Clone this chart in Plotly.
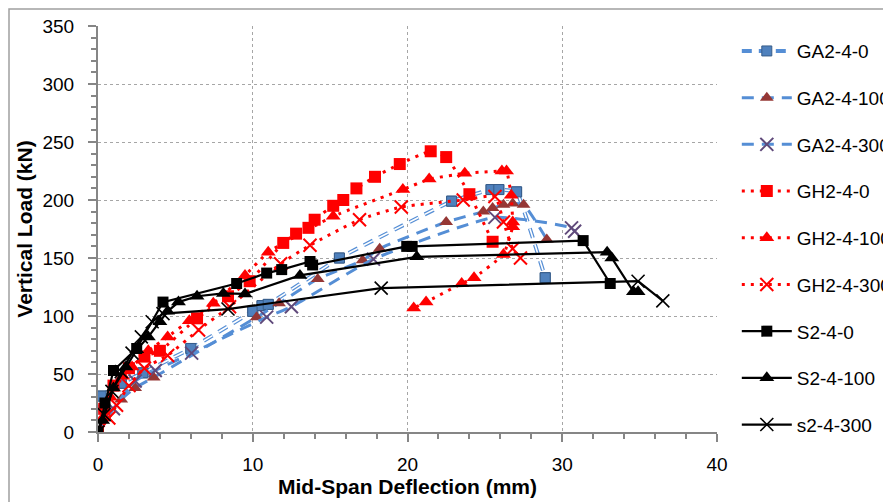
import plotly.graph_objects as go

# ---------------- data (mm, kN) ----------------
ga2_4_0_x = [0, 0.2, 1.5, 2.9, 6.0, 10.0, 10.6, 11.0, 15.6, 22.85, 25.4, 25.9, 27.05, 28.9]
ga2_4_0_y = [0, 31, 42, 51, 72, 104, 109, 110, 150, 199, 209, 209, 207, 133]

ga2_4_100_x = [0, 0.5, 1.5, 2.4, 3.6, 10.25, 11.7, 14.2, 17.1, 18.2, 22.5, 24.9, 25.5, 26.2, 26.8, 27.5, 29.0]
ga2_4_100_y = [0, 12, 28, 38, 47, 99, 111, 132, 148, 158, 181, 190, 193, 196, 197, 196, 166]

ga2_4_300_x = [0, 1.0, 2.4, 3.7, 6.05, 10.9, 12.5, 17.8, 25.65, 30.6, 30.8]
ga2_4_300_y = [0, 20, 44, 53, 68, 99, 108, 149, 185, 176, 173]

gh2_4_0_x = [0, 0.4, 1.0, 2.0, 3.0, 4.0, 6.4, 8.4, 9.8, 11.97, 12.8, 13.6, 14.0, 15.2, 15.85, 16.7, 17.9, 19.5, 21.5, 22.5, 24.0, 25.5]
gh2_4_0_y = [0, 20, 40, 55, 65, 70, 98, 117, 130, 163, 171, 176, 183, 195, 200, 210, 220, 231, 242, 237, 205, 164]

gh2_4_100_x = [0, 0.3, 0.8, 1.6, 2.2, 3.25, 4.5, 5.9, 7.45, 9.5, 11.0, 15.2, 19.7, 21.4, 23.7, 26.1, 26.4, 26.7, 26.8, 26.8, 26.2, 24.3, 23.5, 21.2, 20.4]
gh2_4_100_y = [0, 12, 30, 48, 56, 70, 82, 96, 111, 135, 155, 186, 209, 218, 223, 225, 225, 204, 181, 177, 153, 133, 128, 112, 107]

gh2_4_300_x = [0, 0.7, 1.2, 2.0, 3.0, 4.5, 6.5, 8.5, 11.8, 13.7, 16.9, 19.6, 23.6, 25.65, 26.2, 26.8, 27.3]
gh2_4_300_y = [0, 12, 23, 40, 55, 66, 88, 108, 145, 161, 183, 194, 200, 203, 181, 158, 150]

s2_4_0_x = [0, 0.45, 1.0, 2.5, 4.2, 8.96, 10.9, 11.87, 13.7, 13.87, 19.95, 20.3, 31.35, 33.1]
s2_4_0_y = [0, 25, 53, 72, 112, 128, 137, 140, 147, 144, 160, 160, 165, 128]

s2_4_100_x = [0, 0.3, 1.0, 1.8, 2.5, 3.25, 4.0, 4.5, 5.2, 6.4, 8.1, 9.5, 13.05, 20.6, 32.9, 33.2, 34.6, 34.9]
s2_4_100_y = [0, 10, 38, 56, 71, 82, 95, 104, 112, 117, 119.5, 119, 135, 151, 155, 150, 121, 121]

s2_4_300_x = [0, 0.4, 0.9, 1.5, 2.2, 2.8, 3.5, 4.2, 8.4, 18.3, 34.9, 36.5]
s2_4_300_y = [0, 15, 35, 52, 68, 82, 95, 102, 106, 124, 130, 113]

x_ticks = [0, 10, 20, 30, 40]
y_ticks = [0, 50, 100, 150, 200, 250, 300, 350]

# ---------------- styling ----------------
BLUE = "#558ED5"
RED = "#FF0000"
FONT = "Liberation Sans"
SM = 0.5
SM_GA0 = 0.25

fig = go.Figure()

# GA2-4-0 : hollow (outlined) dashes -> blue dash with white core on top
fig.add_trace(go.Scatter(
    x=ga2_4_0_x, y=ga2_4_0_y, name="GA2-4-0", mode="lines+markers",
    line=dict(color=BLUE, width=4, dash="10px,7px", shape="spline", smoothing=SM_GA0),
    marker=dict(symbol="square", size=10, color="#4F81BD", line=dict(color="#385D8A", width=1)),
    legendgroup="g1"))
fig.add_trace(go.Scatter(
    x=ga2_4_0_x, y=ga2_4_0_y, name="GA2-4-0", mode="lines", showlegend=False,
    line=dict(color="white", width=1.6, dash="10px,7px", shape="spline", smoothing=SM_GA0),
    legendgroup="g1", hoverinfo="skip"))
fig.add_trace(go.Scatter(
    x=ga2_4_0_x, y=ga2_4_0_y, name="GA2-4-0", mode="markers", showlegend=False,
    marker=dict(symbol="square", size=10, color="#4F81BD", line=dict(color="#385D8A", width=1)),
    legendgroup="g1", hoverinfo="skip"))

fig.add_trace(go.Scatter(
    x=ga2_4_100_x, y=ga2_4_100_y, name="GA2-4-100", mode="lines+markers",
    line=dict(color=BLUE, width=3, dash="12px,8px", shape="spline", smoothing=SM),
    marker=dict(symbol="triangle-up", size=12, color="#953735"),
    legendgroup="g2"))

fig.add_trace(go.Scatter(
    x=ga2_4_300_x, y=ga2_4_300_y, name="GA2-4-300", mode="lines+markers",
    line=dict(color=BLUE, width=3, dash="12px,8px", shape="spline", smoothing=SM),
    marker=dict(symbol="x-thin", size=13, color="#604A7B", line=dict(color="#604A7B", width=2)),
    legendgroup="g3"))

fig.add_trace(go.Scatter(
    x=gh2_4_0_x, y=gh2_4_0_y, name="GH2-4-0", mode="lines+markers",
    line=dict(color=RED, width=3, dash="3px,6px", shape="spline", smoothing=SM),
    marker=dict(symbol="square", size=12, color=RED),
    legendgroup="g4"))

fig.add_trace(go.Scatter(
    x=gh2_4_100_x, y=gh2_4_100_y, name="GH2-4-100", mode="lines+markers",
    line=dict(color=RED, width=3, dash="3px,6px", shape="spline", smoothing=0.35),
    marker=dict(symbol="triangle-up", size=13, color=RED),
    legendgroup="g5"))

fig.add_trace(go.Scatter(
    x=gh2_4_300_x, y=gh2_4_300_y, name="GH2-4-300", mode="lines+markers",
    line=dict(color=RED, width=3, dash="3px,6px", shape="spline", smoothing=SM),
    marker=dict(symbol="x-thin", size=13, color=RED, line=dict(color=RED, width=2)),
    legendgroup="g6"))

fig.add_trace(go.Scatter(
    x=s2_4_0_x, y=s2_4_0_y, name="S2-4-0", mode="lines+markers",
    line=dict(color="black", width=2.2),
    marker=dict(symbol="square", size=11, color="black"),
    legendgroup="g7"))

fig.add_trace(go.Scatter(
    x=s2_4_100_x, y=s2_4_100_y, name="S2-4-100", mode="lines+markers",
    line=dict(color="black", width=2.2),
    marker=dict(symbol="triangle-up", size=13, color="black"),
    legendgroup="g8"))

fig.add_trace(go.Scatter(
    x=s2_4_300_x, y=s2_4_300_y, name="s2-4-300", mode="lines+markers",
    line=dict(color="black", width=2.2),
    marker=dict(symbol="x-thin", size=13, color="black", line=dict(color="black", width=1.6)),
    legendgroup="g9"))

AX = "#868686"
GRID = "#A6A6A6"

# page body adds 8px offset; plot area targets page x 98..717, y 26..432
L, T, PW, PH = 90, 18, 619, 406

fig.update_layout(
    width=891, height=502,
    margin=dict(l=L, r=891 - L - PW, t=T, b=502 - T - PH, autoexpand=False),
    paper_bgcolor="white", plot_bgcolor="white",
    font=dict(family=FONT, size=19, color="black"),
    showlegend=True,
    legend=dict(x=1.032, y=0.985, xanchor="left", yanchor="top",
                font=dict(family=FONT, size=19, color="black"),
                tracegroupgap=19, itemwidth=50, bgcolor="rgba(0,0,0,0)"),
    xaxis=dict(
        range=[0, 40], tickvals=x_ticks, ticktext=[str(v) for v in x_ticks],
        showline=True, linecolor=AX, linewidth=2, automargin=False,
        ticks="outside", ticklen=8, tickwidth=2, tickcolor=AX,
        minor=dict(dtick=2, ticks="outside", ticklen=5, tickwidth=1.5, tickcolor=AX, showgrid=False),
        showgrid=True, gridcolor=GRID, griddash="dot", gridwidth=1,
        zeroline=False, ticklabelstandoff=6,
        title=dict(text="<b>Mid-Span Deflection (mm)</b>", font=dict(family=FONT, size=21), standoff=6),
    ),
    yaxis=dict(
        range=[0, 350], tickvals=y_ticks, ticktext=[str(v) for v in y_ticks],
        showline=True, linecolor=AX, linewidth=2, automargin=False,
        ticks="outside", ticklen=8, tickwidth=2, tickcolor=AX,
        minor=dict(dtick=10, ticks="outside", ticklen=5, tickwidth=1.5, tickcolor=AX, showgrid=False),
        showgrid=True, gridcolor=GRID, griddash="dot", gridwidth=1,
        zeroline=False, ticklabelstandoff=10,
        title=dict(text="<b>Vertical Load (kN)</b>", font=dict(family=FONT, size=21), standoff=4),
    ),
)

# chart-area border (Excel style)
fig.add_shape(type="rect", xref="paper", yref="paper",
              x0=(1 - L) / PW, x1=(900 - L) / PW,
              y0=(T + PH - 510) / PH, y1=(T + PH - 1) / PH,
              line=dict(color="#A0A0A0", width=1.5), fillcolor="rgba(0,0,0,0)", layer="below")

fig.write_html("out.html")
